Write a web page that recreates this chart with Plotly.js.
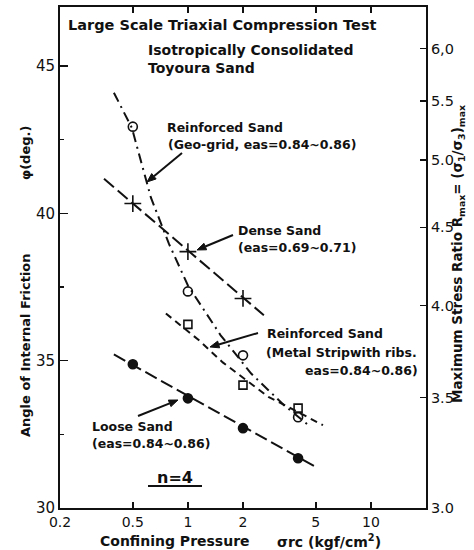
<!DOCTYPE html>
<html>
<head>
<meta charset="utf-8">
<script src="https://cdn.plot.ly/plotly-3.0.1.min.js"></script>
<style>html,body{margin:0;padding:0;background:#fff;}#chart{width:474px;height:550px;}</style>
</head>
<body>
<div id="chart"></div>
<script>
// ---- Data ----
// Confining pressure sigma_rc (kgf/cm2) vs angle of internal friction phi (deg)
const densePressure = [0.5, 1, 2];
const denseSand = [40.33, 38.70, 37.11];          // Dense Sand (eas=0.69~0.71)
const denseLineX = [0.348, 2.6];
const denseLineY = [41.17, 36.54];

const geoPressure = [0.5, 1, 2, 4];
const geoGrid = [42.94, 37.35, 35.18, 33.08];     // Reinforced Sand (Geo-grid)
const geoLineX = [0.394, 0.494, 0.628, 0.787, 1.0, 1.51, 2.21, 3.35, 4.7];
const geoLineY = [44.09, 42.90, 40.53, 38.97, 37.55, 35.86, 34.57, 33.49, 32.74];

const metalPressure = [1, 2, 4];
const metalStrip = [36.23, 34.17, 33.39];         // Reinforced Sand (Metal strip with ribs)
const metalLineX = [0.758, 1.15, 1.55, 2.77, 3.56, 5.47];
const metalLineY = [36.60, 35.69, 34.94, 33.76, 33.42, 32.81];

const loosePressure = [0.5, 1, 2, 4];
const looseSand = [34.88, 33.72, 32.71, 31.69];   // Loose Sand (eas=0.84~0.86)
const looseLineX = [0.394, 5.0];
const looseLineY = [35.21, 31.39];

const xTickVals = [0.2, 0.5, 1, 2, 5, 10];
const xTickText = ['0.2', '0.5', '1', '2', '5', '10'];
const rTickVals = [3.0, 3.5, 4.0, 4.5, 5.0, 5.5, 6.0];
const rTickText = ['3.0', '3.5', '4.0', '4.5', '5.0', '5.5', '6,0'];

// Rmax = (1+sin phi)/(1-sin phi)  ->  phi = asin((R-1)/(R+1))
const rTickPhi = rTickVals.map(R => Math.asin((R - 1) / (R + 1)) * 180 / Math.PI);

const FONT = 'DejaVu Sans, sans-serif';
const BLK = '#111';

// plot area in pixels (for placing decorations)
const PL = 60, PR = 426, PT = 7, PB = 508;
const px2x = px => (px - PL) / (PR - PL);
const py2y = py => (PB - py) / (PB - PT);

function lineTrace(x, y, dash) {
  return {x: x, y: y, type: 'scatter', mode: 'lines', showlegend: false, hoverinfo: 'skip',
          line: {color: BLK, width: 2, dash: dash}};
}
function markTrace(x, y, symbol, size, name) {
  return {x: x, y: y, type: 'scatter', mode: 'markers', name: name, showlegend: false,
          marker: {symbol: symbol, size: size, color: BLK, line: {color: BLK, width: 1.6}}};
}

const traces = [
  lineTrace(denseLineX, denseLineY, '13px,5px'),
  lineTrace(geoLineX, geoLineY, '10px,5px,2px,5px'),
  lineTrace(metalLineX, metalLineY, '7px,5px'),
  lineTrace(looseLineX, looseLineY, '13px,5px'),
  markTrace(densePressure, denseSand, 'cross-thin-open', 12, 'Dense Sand'),
  markTrace(geoPressure, geoGrid, 'circle-open', 9, 'Reinforced Sand (Geo-grid)'),
  markTrace(metalPressure, metalStrip, 'square-open', 8, 'Reinforced Sand (Metal Strip)'),
  markTrace(loosePressure, looseSand, 'circle', 9, 'Loose Sand'),
  // invisible trace to activate the right axis
  {x: [1], y: [30], yaxis: 'y2', type: 'scatter', mode: 'markers', showlegend: false,
   hoverinfo: 'skip', marker: {opacity: 0}}
];

function txt(text, px, py, size, anchor, angle) {
  return {text: text, x: px2x(px), y: py2y(py), xref: 'paper', yref: 'paper', showarrow: false,
          xanchor: anchor || 'left', yanchor: 'middle', textangle: angle || 0, borderpad: 0,
          font: {family: FONT, size: size || 12.5, color: BLK, weight: 'bold'}};
}
// arrow as line + filled triangle head (pixel positions of tail and head)
function arrowShapes(tx, ty, hx, hy) {
  const dx = hx - tx, dy = hy - ty, len = Math.hypot(dx, dy);
  const ux = dx / len, uy = dy / len, L = 9, W = 3.5;
  const bx = hx - ux * L, by = hy - uy * L;
  const c1x = bx - uy * W, c1y = by + ux * W, c2x = bx + uy * W, c2y = by - ux * W;
  const p = (x, y) => px2x(x).toFixed(4) + ',' + py2y(y).toFixed(4);
  return [
    {type: 'line', xref: 'paper', yref: 'paper', x0: px2x(tx), y0: py2y(ty), x1: px2x(bx), y1: py2y(by),
     line: {color: BLK, width: 2}},
    {type: 'path', xref: 'paper', yref: 'paper',
     path: 'M' + p(hx, hy) + ' L' + p(c1x, c1y) + ' L' + p(c2x, c2y) + ' Z',
     fillcolor: BLK, line: {color: BLK, width: 1}}
  ];
}

const layout = {
  width: 474, height: 550,
  margin: {l: PL, r: 474 - PR, t: PT, b: 550 - PB},
  paper_bgcolor: '#fff', plot_bgcolor: '#fff',
  title: {text: 'Large Scale Triaxial Compression Test', x: 68 / 474, xanchor: 'left',
          xref: 'container', y: 1 - 25 / 550, yanchor: 'middle', yref: 'container',
          font: {family: FONT, size: 14.5, color: BLK, weight: 'bold'}},
  xaxis: {type: 'log', range: [Math.log10(0.2), Math.log10(20)],
          tickvals: xTickVals, ticktext: xTickText,
          ticks: 'inside', ticklen: 6, tickwidth: 1.5, tickcolor: BLK,
          showline: true, linewidth: 2, linecolor: BLK, mirror: 'ticks',
          showgrid: false, zeroline: false,
          tickfont: {family: FONT, size: 14, color: BLK}},
  yaxis: {range: [30, 47], dtick: 5, tick0: 0,
          ticks: 'inside', ticklen: 8, tickwidth: 1.5, tickcolor: BLK,
          minor: {dtick: 2.5, ticks: 'inside', ticklen: 4, tickcolor: BLK, showgrid: false},
          showline: true, linewidth: 2, linecolor: BLK,
          showgrid: false, zeroline: false,
          tickfont: {family: FONT, size: 15, color: BLK}},
  yaxis2: {range: [30, 47], overlaying: 'y', side: 'right',
           tickvals: rTickPhi, ticktext: rTickText,
           ticks: 'inside', ticklen: 6, tickwidth: 1.5, tickcolor: BLK,
           showline: true, linewidth: 2, linecolor: BLK,
           showgrid: false, zeroline: false,
           tickfont: {family: FONT, size: 14.5, color: BLK}},
  shapes: [
    {type: 'line', xref: 'paper', yref: 'paper', x0: px2x(148), x1: px2x(202), y0: py2y(486), y1: py2y(486),
     line: {color: BLK, width: 2}}
  ].concat(
    arrowShapes(182, 153, 147, 182),
    arrowShapes(233, 235, 197, 250),
    arrowShapes(258, 333, 210, 347),
    arrowShapes(138, 416, 178, 400)
  ),
  annotations: [
    txt('Isotropically Consolidated', 147, 50, 14),
    txt('Toyoura Sand', 147, 68, 14),
    txt('Reinforced Sand', 166, 127),
    txt('(Geo-grid, eas=0.84~0.86)', 167, 145),
    txt('Dense Sand', 237, 230.5),
    txt('(eas=0.69~0.71)', 237, 247),
    txt('Reinforced Sand', 266, 333),
    txt('(Metal Stripwith ribs.', 265, 352),
    txt('eas=0.84~0.86)', 419, 370, 12.5, 'right'),
    txt('Loose Sand', 91, 426),
    txt('(eas=0.84~0.86)', 91, 443),
    txt('n=4', 175, 477, 16, 'center'),
    // axis titles
    txt('Angle of Internal Friction', 25, 345, 13, 'center', -90),
    txt('\u03c6(deg.)', 25, 153, 13, 'center', -90),
    txt('Maximum Stress Ratio R<sub>max</sub>= (\u03c3<sub>1</sub>/\u03c3<sub>3</sub>)<sub>max</sub>',
        458, 254, 13.5, 'center', -90),
    txt('Confining Pressure', 175, 541, 14, 'center'),
    txt('\u03c3rc (kgf/cm<sup>2</sup>)', 329, 541, 14, 'center')
  ]
};

Plotly.newPlot('chart', traces, layout, {displayModeBar: false, staticPlot: true});
</script>
</body>
</html>
